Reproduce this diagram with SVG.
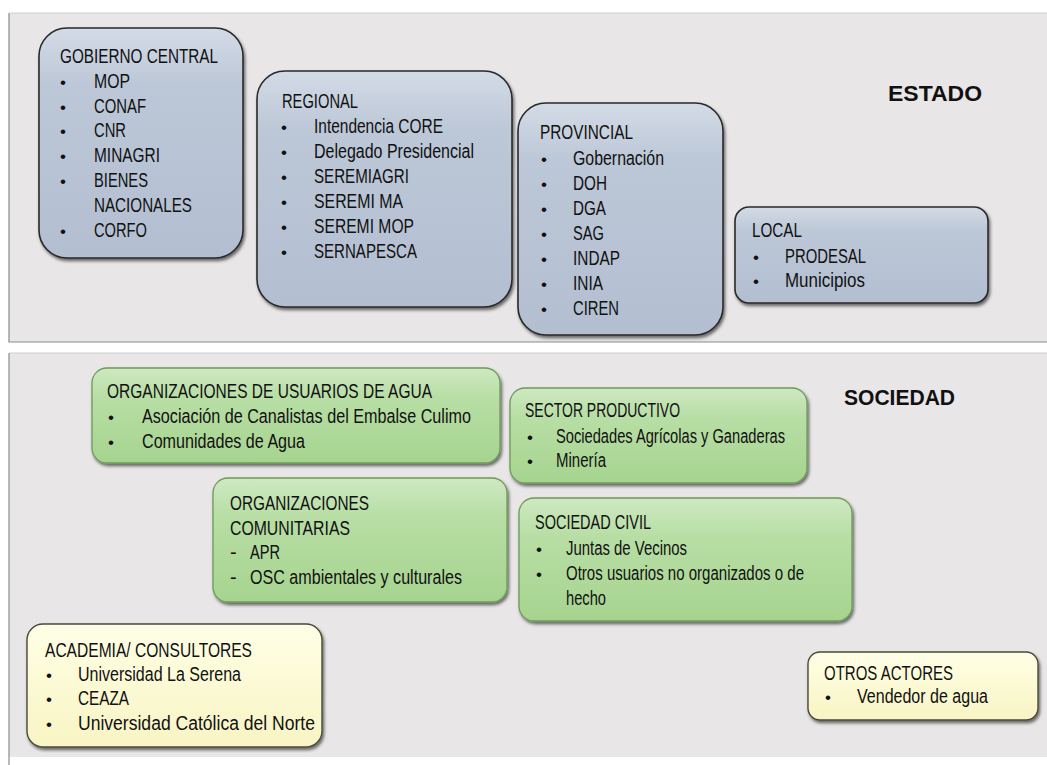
<svg xmlns="http://www.w3.org/2000/svg" width="1047" height="765" viewBox="0 0 1047 765">
<defs>
<linearGradient id="gBlue" x1="0" y1="0" x2="0" y2="1">
<stop offset="0" stop-color="#d3dbe6"/><stop offset="0.25" stop-color="#bcc7d7"/><stop offset="1" stop-color="#b3bfd1"/>
</linearGradient>
<linearGradient id="gGreen" x1="0" y1="0" x2="0" y2="1">
<stop offset="0" stop-color="#cfe9c2"/><stop offset="0.3" stop-color="#b8dea5"/><stop offset="1" stop-color="#a6d48f"/>
</linearGradient>
<linearGradient id="gYellow" x1="0" y1="0" x2="0" y2="1">
<stop offset="0" stop-color="#fefee8"/><stop offset="0.3" stop-color="#fdfcdb"/><stop offset="1" stop-color="#f8f4c4"/>
</linearGradient>
<filter id="sh" x="-10%" y="-10%" width="125%" height="130%">
<feDropShadow dx="1.5" dy="2.5" stdDeviation="1.8" flood-color="#000" flood-opacity="0.55"/>
</filter>
<style>
.panel{fill:#e8e6e6}
.pline{stroke:#8c8c8c;stroke-width:1.2;fill:none}
.blue{fill:url(#gBlue);stroke:#2a2a2a;stroke-width:1.6;filter:url(#sh)}
.green{fill:url(#gGreen);stroke:#6f9a5a;stroke-width:1.3;filter:url(#sh)}
.yellow{fill:url(#gYellow);stroke:#4a4a3a;stroke-width:1.4;filter:url(#sh)}
text{font-family:"Liberation Sans","Arial",sans-serif;font-size:20px;fill:#111}
text.b{font-size:17px}
text.head{font-family:"Liberation Sans","DejaVu Sans",sans-serif;font-weight:bold;font-size:22px;fill:#111}
</style>
</defs>

<g id="panels">
<rect class="panel" x="9" y="13" width="1038" height="329"/>
<path class="pline" d="M9,13 V342 H1047"/>
<line x1="9" y1="13" x2="1047" y2="13" stroke="#cfcfcf" stroke-width="1"/>
<rect class="panel" x="9" y="353" width="1038" height="404"/>
<line x1="9" y1="353" x2="1047" y2="353" stroke="#cfcfcf" stroke-width="1"/>
<line class="pline" x1="9" y1="353" x2="9" y2="765"/>
</g>

<g id="labels">
<text class="head" x="888" y="101" textLength="94" lengthAdjust="spacingAndGlyphs">ESTADO</text>
<text class="head" x="844" y="405" textLength="111" lengthAdjust="spacingAndGlyphs">SOCIEDAD</text>
</g>

<g id="connectors"/>

<g id="gobierno-central">
<rect class="blue" x="39" y="28" width="204" height="230" rx="28"/>
<text x="60" y="63" textLength="158" lengthAdjust="spacingAndGlyphs">GOBIERNO CENTRAL</text>
<text class="b" x="60" y="88">•</text><text x="94" y="88" textLength="36" lengthAdjust="spacingAndGlyphs">MOP</text>
<text class="b" x="60" y="113">•</text><text x="94" y="113" textLength="52" lengthAdjust="spacingAndGlyphs">CONAF</text>
<text class="b" x="60" y="137">•</text><text x="94" y="137" textLength="32" lengthAdjust="spacingAndGlyphs">CNR</text>
<text class="b" x="60" y="162">•</text><text x="94" y="162" textLength="66" lengthAdjust="spacingAndGlyphs">MINAGRI</text>
<text class="b" x="60" y="187">•</text><text x="94" y="187" textLength="54" lengthAdjust="spacingAndGlyphs">BIENES</text>
<text x="94" y="212" textLength="98" lengthAdjust="spacingAndGlyphs">NACIONALES</text>
<text class="b" x="60" y="237">•</text><text x="94" y="237" textLength="53" lengthAdjust="spacingAndGlyphs">CORFO</text>
</g>

<g id="regional">
<rect class="blue" x="257" y="71" width="255" height="236" rx="28"/>
<text x="282" y="108" textLength="76" lengthAdjust="spacingAndGlyphs">REGIONAL</text>
<text class="b" x="281" y="133">•</text><text x="314" y="133" textLength="129" lengthAdjust="spacingAndGlyphs">Intendencia CORE</text>
<text class="b" x="281" y="158">•</text><text x="314" y="158" textLength="160" lengthAdjust="spacingAndGlyphs">Delegado Presidencial</text>
<text class="b" x="281" y="183">•</text><text x="314" y="183" textLength="95" lengthAdjust="spacingAndGlyphs">SEREMIAGRI</text>
<text class="b" x="281" y="208">•</text><text x="314" y="208" textLength="89" lengthAdjust="spacingAndGlyphs">SEREMI MA</text>
<text class="b" x="281" y="233">•</text><text x="314" y="233" textLength="100" lengthAdjust="spacingAndGlyphs">SEREMI MOP</text>
<text class="b" x="281" y="258">•</text><text x="314" y="258" textLength="103" lengthAdjust="spacingAndGlyphs">SERNAPESCA</text>
</g>

<g id="provincial">
<rect class="blue" x="518" y="103" width="205" height="232" rx="28"/>
<text x="540" y="139" textLength="93" lengthAdjust="spacingAndGlyphs">PROVINCIAL</text>
<text class="b" x="541" y="165">•</text><text x="573" y="165" textLength="91" lengthAdjust="spacingAndGlyphs">Gobernación</text>
<text class="b" x="541" y="190">•</text><text x="573" y="190" textLength="34" lengthAdjust="spacingAndGlyphs">DOH</text>
<text class="b" x="541" y="215">•</text><text x="573" y="215" textLength="33" lengthAdjust="spacingAndGlyphs">DGA</text>
<text class="b" x="541" y="240">•</text><text x="573" y="240" textLength="31" lengthAdjust="spacingAndGlyphs">SAG</text>
<text class="b" x="541" y="265">•</text><text x="573" y="265" textLength="47" lengthAdjust="spacingAndGlyphs">INDAP</text>
<text class="b" x="541" y="290">•</text><text x="573" y="290" textLength="30" lengthAdjust="spacingAndGlyphs">INIA</text>
<text class="b" x="541" y="315">•</text><text x="573" y="315" textLength="46" lengthAdjust="spacingAndGlyphs">CIREN</text>
</g>

<g id="local">
<rect class="blue" x="735" y="207" width="253" height="96" rx="14"/>
<text x="752" y="237" textLength="50" lengthAdjust="spacingAndGlyphs">LOCAL</text>
<text class="b" x="753" y="263">•</text><text x="785" y="263" textLength="81" lengthAdjust="spacingAndGlyphs">PRODESAL</text>
<text class="b" x="753" y="287">•</text><text x="785" y="287" textLength="80" lengthAdjust="spacingAndGlyphs">Municipios</text>
</g>

<g id="org-usuarios-agua">
<rect class="green" x="92" y="368" width="408" height="95" rx="15"/>
<text x="107" y="398" textLength="325" lengthAdjust="spacingAndGlyphs">ORGANIZACIONES DE USUARIOS DE AGUA</text>
<text class="b" x="108" y="423">•</text><text x="142" y="423" textLength="329" lengthAdjust="spacingAndGlyphs">Asociación de Canalistas del Embalse Culimo</text>
<text class="b" x="108" y="448">•</text><text x="142" y="448" textLength="163" lengthAdjust="spacingAndGlyphs">Comunidades de Agua</text>
</g>

<g id="org-comunitarias">
<rect class="green" x="213" y="478" width="294" height="124" rx="15"/>
<text x="230" y="510" textLength="139" lengthAdjust="spacingAndGlyphs">ORGANIZACIONES</text>
<text x="230" y="535" textLength="120" lengthAdjust="spacingAndGlyphs">COMUNITARIAS</text>
<text x="230" y="559">-</text><text x="250" y="559" textLength="30" lengthAdjust="spacingAndGlyphs">APR</text>
<text x="230" y="584">-</text><text x="250" y="584" textLength="212" lengthAdjust="spacingAndGlyphs">OSC ambientales y culturales</text>
</g>

<g id="sector-productivo">
<rect class="green" x="510" y="388" width="297" height="95" rx="15"/>
<text x="525" y="417" textLength="155" lengthAdjust="spacingAndGlyphs">SECTOR PRODUCTIVO</text>
<text class="b" x="527" y="443">•</text><text x="556" y="443" textLength="229" lengthAdjust="spacingAndGlyphs">Sociedades Agrícolas y Ganaderas</text>
<text class="b" x="527" y="467">•</text><text x="556" y="467" textLength="50" lengthAdjust="spacingAndGlyphs">Minería</text>
</g>

<g id="sociedad-civil">
<rect class="green" x="519" y="498" width="333" height="123" rx="15"/>
<text x="535" y="529" textLength="116" lengthAdjust="spacingAndGlyphs">SOCIEDAD CIVIL</text>
<text class="b" x="536" y="555">•</text><text x="566" y="555" textLength="121" lengthAdjust="spacingAndGlyphs">Juntas de Vecinos</text>
<text class="b" x="536" y="580">•</text><text x="566" y="580" textLength="238" lengthAdjust="spacingAndGlyphs">Otros usuarios no organizados o de</text>
<text x="566" y="605" textLength="40" lengthAdjust="spacingAndGlyphs">hecho</text>
</g>

<g id="academia">
<rect class="yellow" x="27" y="624" width="295" height="123" rx="16"/>
<text x="45" y="657" textLength="207" lengthAdjust="spacingAndGlyphs">ACADEMIA/ CONSULTORES</text>
<text class="b" x="46" y="681">•</text><text x="78" y="681" textLength="163" lengthAdjust="spacingAndGlyphs">Universidad La Serena</text>
<text class="b" x="46" y="705">•</text><text x="78" y="705" textLength="51" lengthAdjust="spacingAndGlyphs">CEAZA</text>
<text class="b" x="46" y="730">•</text><text x="78" y="730" textLength="237" lengthAdjust="spacingAndGlyphs">Universidad Católica del Norte</text>
</g>

<g id="otros-actores">
<rect class="yellow" x="808" y="652" width="230" height="68" rx="12"/>
<text x="824" y="680" textLength="129" lengthAdjust="spacingAndGlyphs">OTROS ACTORES</text>
<text class="b" x="825" y="703">•</text><text x="857" y="703" textLength="131" lengthAdjust="spacingAndGlyphs">Vendedor de agua</text>
</g>
</svg>
